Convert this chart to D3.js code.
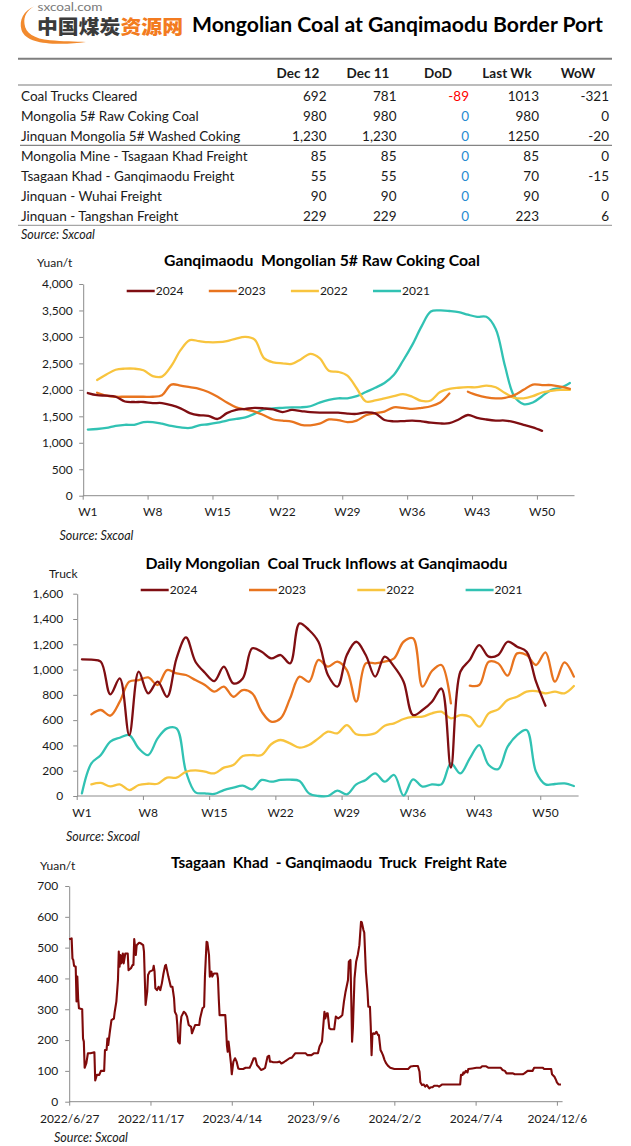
<!DOCTYPE html>
<html><head><meta charset="utf-8">
<script src="https://cdn.jsdelivr.net/npm/d3@7"></script>
<style>
body{margin:0;background:#fff;}
svg{display:block;font-family:Lato,"Noto Sans",sans-serif;}
.pre{white-space:pre;}
</style></head><body>
<script>
// ---------- DATA ----------
const tableLabels = ["Coal Trucks Cleared","Mongolia 5# Raw Coking Coal","Jinquan Mongolia 5# Washed Coking","Mongolia Mine - Tsagaan Khad Freight","Tsagaan Khad - Ganqimaodu Freight","Jinquan - Wuhai Freight","Jinquan - Tangshan Freight"];
const tableHeaders = ["Dec 12","Dec 11","DoD","Last Wk","WoW"];
const colDec12 = ["692","980","1,230","85","55","90","229"];
const colDec11 = ["781","980","1,230","85","55","90","229"];
const colDoD = [-89,0,0,0,0,0,0];
const colLastWk = ["1013","980","1250","85","70","90","223"];
const colWoW = [-321,0,-20,0,-15,0,6];

const years = ["2024","2023","2022","2021"];
const weekTicks = [1,8,15,22,29,36,43,50];

const coal2024 = [1940,1900,1890,1870,1780,1770,1770,1750,1750,1710,1650,1560,1520,1510,1450,1560,1620,1640,1660,1650,1630,1580,1620,1600,1580,1570,1570,1570,1550,1545,1575,1555,1430,1405,1410,1420,1405,1380,1365,1370,1440,1525,1470,1440,1420,1420,1390,1340,1290,1225,null,null,null];
const coal2023 = [null,1946,1890,1870,1870,1870,1870,1870,1900,2100,2080,2050,2020,1960,1870,1760,1670,1630,1590,1520,1440,1420,1400,1340,1330,1360,1440,1430,1390,1420,1520,1560,1590,1670,1660,1640,1660,1690,1760,1930,null,1965,1900,1860,1840,1850,1900,2000,2100,2090,2090,2060,2020];
const coal2022 = [null,2186,2290,2380,2400,2400,2370,2260,2250,2450,2750,2940,2920,2900,2900,2920,2970,3000,2950,2600,2520,2500,2490,2580,2680,2600,2360,2340,2270,2030,1780,1800,1840,1880,1920,1870,1790,1800,1960,2020,2040,2050,2050,2080,2050,1940,1850,1840,1880,1950,1980,2000,2000];
const coal2021 = [1250,1260,1280,1320,1340,1340,1390,1390,1360,1320,1290,1280,1330,1350,1380,1420,1450,1480,1550,1630,1650,1660,1670,1670,1690,1760,1810,1840,1840,1880,1960,2040,2130,2280,2550,2850,3200,3480,3500,3490,3470,3420,3380,3380,3150,2450,1880,1730,1760,1880,2000,2040,2130];

const truck2024 = [1081,1078,1062,804,930,482,983,812,904,785,1089,1255,1062,975,909,1023,891,930,1168,1141,1089,1115,1049,1365,1313,1220,957,865,1115,1220,1115,944,1102,1023,904,640,680,746,850,225,983,1076,1194,1102,1115,1220,1181,1141,904,714,null,null,null];
const truck2023 = [null,646,680,635,746,904,917,938,878,996,970,957,917,878,825,865,785,838,812,667,588,614,772,944,904,1076,1023,1062,996,746,1049,1049,1062,1089,1220,1247,865,989,1036,733,null,873,878,1062,1049,952,1128,1115,1036,1136,904,1057,944];
const truck2022 = [null,92,103,76,92,47,87,97,97,145,145,192,203,192,179,224,245,316,324,324,409,443,416,382,403,456,509,496,561,488,482,496,556,575,609,625,627,654,667,614,640,627,548,654,685,759,785,825,830,812,825,812,870];
const truck2021 = [21,258,324,430,461,482,377,324,456,535,535,192,29,21,16,47,66,82,53,127,113,127,129,119,21,0,0,42,13,92,127,179,113,166,3,132,74,92,92,258,179,298,403,245,213,390,482,522,192,92,95,100,79];

const freightDateLabels = ["2022/6/27","2022/11/17","2023/4/14","2023/9/6","2024/2/2","2024/7/4","2024/12/6"];
const freightTickIdx = [0,100,200,300,400,500,600];
const freight = [[0,527],[3,530],[4,465],[5,460],[6,441],[8,438],[9,325],[10,406],[11,335],[12,303],[16,300],[17,205],[18,195],[19,110],[21,124],[23,157],[26,157],[30,160],[31,160],[32,69],[34,87],[37,87],[39,100],[43,100],[44,168],[46,168],[47,205],[48,184],[50,227],[52,265],[55,270],[56,292],[58,325],[60,395],[61,487],[62,438],[63,476],[64,449],[66,481],[67,449],[69,481],[72,481],[73,427],[76,433],[78,444],[79,444],[80,528],[82,476],[83,508],[86,516],[88,514],[91,508],[92,487],[93,400],[94,314],[96,357],[97,411],[99,422],[103,427],[104,441],[105,422],[106,368],[108,362],[110,373],[112,362],[114,384],[116,416],[118,441],[119,444],[122,406],[125,373],[127,373],[129,335],[130,292],[132,281],[133,249],[134,195],[136,189],[137,249],[138,276],[141,292],[143,287],[145,276],[147,249],[150,243],[151,222],[155,249],[160,249],[161,270],[164,303],[166,308],[167,406],[169,519],[170,517],[172,476],[173,406],[175,422],[176,406],[178,416],[182,416],[183,400],[184,335],[185,281],[192,281],[193,238],[194,184],[195,162],[196,195],[197,173],[199,124],[200,89],[202,130],[204,141],[206,130],[208,108],[210,106],[214,106],[217,110],[222,110],[224,121],[227,141],[229,141],[231,119],[234,110],[236,103],[239,106],[241,110],[244,146],[246,149],[247,130],[249,130],[251,128],[256,128],[259,130],[261,124],[264,128],[266,132],[271,141],[274,143],[278,157],[291,157],[293,151],[298,151],[301,157],[306,157],[308,179],[311,195],[312,227],[314,292],[315,270],[317,287],[318,287],[320,238],[322,235],[326,235],[328,276],[331,270],[334,276],[336,281],[338,325],[340,357],[343,395],[344,454],[346,460],[347,335],[348,195],[349,238],[351,400],[353,454],[355,476],[357,508],[359,584],[360,582],[362,557],[363,549],[365,422],[367,357],[368,308],[370,308],[371,243],[372,151],[373,216],[374,222],[376,220],[378,227],[380,216],[381,216],[383,168],[385,157],[386,151],[388,135],[390,124],[392,117],[395,110],[400,106],[417,106],[420,114],[424,116],[429,116],[431,97],[432,63],[434,54],[436,56],[438,49],[440,54],[443,43],[445,47],[447,47],[449,52],[453,52],[455,49],[459,56],[481,56],[482,87],[484,87],[485,95],[486,92],[488,100],[490,95],[491,106],[496,108],[501,110],[506,110],[508,115],[513,115],[516,110],[531,110],[533,103],[536,100],[538,92],[546,92],[548,89],[558,89],[560,92],[564,100],[570,100],[572,110],[583,110],[584,106],[593,106],[594,89],[597,81],[599,70],[600,63],[602,56],[605,56]];

const colors = {"2024":"#7F0E12","2023":"#E8741F","2022":"#F8C43E","2021":"#31C2B3"};
const axisColor = "#8c8c8c";
const textColor = "#1a1a1a";

// ---------- SVG ----------
const svg = d3.select("body").append("svg").attr("width",631).attr("height",1146);
svg.append("rect").attr("width",631).attr("height",1146).attr("fill","#fff");

// Logo
const logo = svg.append("g");
logo.append("path")
  .attr("d","M34,6.5 C24,10.5 18.5,20 21.5,30 C25,40.5 40,43.8 60,43.8 C70,43.8 78,43.2 86,42 C76,41.6 62,41.4 50,40.3 C34,38.8 25.5,33 24.5,24 C23.5,16 27,10.5 34,6.5 Z")
  .attr("fill","#F28A2E");
logo.append("text").attr("x",37.5).attr("y",11.3).attr("font-size",11.5).attr("fill","#7a7a7a")
  .attr("textLength",65).attr("lengthAdjust","spacingAndGlyphs").text("sxcoal.com");
const cn = logo.append("text").attr("x",37).attr("y",33.5).attr("font-size",19).attr("font-weight",900)
  .attr("font-family","'Noto Sans CJK SC',sans-serif").attr("textLength",146).attr("lengthAdjust","spacingAndGlyphs");
cn.append("tspan").attr("fill","#3b3b3b").text("中国煤炭");
cn.append("tspan").attr("fill","#F37B20").text("资源网");

svg.append("text").attr("x",192).attr("y",32).attr("font-size",20).attr("font-weight",700)
  .attr("fill","#000").attr("textLength",411).attr("lengthAdjust","spacingAndGlyphs")
  .text("Mongolian Coal at Ganqimaodu Border Port");

// ---------- TABLE ----------
const tbl = svg.append("g").attr("font-size",13.5).attr("fill",textColor);
const hdrX = [298,368,438,507,578];
const valRight = [326.5,396.5,469,539,609];
tbl.append("line").attr("x1",18).attr("x2",612).attr("y1",58.7).attr("y2",58.7).attr("stroke","#7f7f7f").attr("stroke-width",2);
tbl.append("line").attr("x1",18).attr("x2",612).attr("y1",85).attr("y2",85).attr("stroke","#a6a6a6").attr("stroke-width",1.3);
tbl.append("line").attr("x1",20).attr("x2",612).attr("y1",145.3).attr("y2",145.3).attr("stroke","#666").attr("stroke-width",1);
tbl.append("line").attr("x1",18).attr("x2",612).attr("y1",225.3).attr("y2",225.3).attr("stroke","#a6a6a6").attr("stroke-width",1.3);
tbl.selectAll("text.h").data(tableHeaders).join("text").attr("class","h")
  .attr("x",(d,i)=>hdrX[i]).attr("y",78).attr("text-anchor","middle").attr("font-weight",700).text(d=>d);
tbl.selectAll("text.l").data(tableLabels).join("text").attr("class","l")
  .attr("x",21).attr("y",(d,i)=>101+i*20).text(d=>d);
const cols = [colDec12,colDec11,colDoD,colLastWk,colWoW];
cols.forEach((col,ci)=>{
  tbl.selectAll("text.c"+ci).data(col).join("text").attr("class","c"+ci)
    .attr("x",valRight[ci]).attr("y",(d,i)=>101+i*20).attr("text-anchor","end")
    .attr("fill",d=> ci===2 ? (d<0 ? "#FF0000" : "#1F8BD0") : textColor)
    .text(d=>String(d));
});
tbl.append("text").attr("x",21).attr("y",239).attr("font-style","italic").attr("font-size",12.5).text("Source: Sxcoal");

// ---------- WEEKLY CHARTS ----------
function weeklyChart(cfg){
  const g = svg.append("g");
  const x = d3.scaleLinear().domain([0,53]).range(cfg.xr);
  const y = d3.scaleLinear().domain([0,cfg.ymax]).range(cfg.yr);
  const ya = d3.axisLeft(y).tickValues(d3.range(0,cfg.ymax+1,cfg.ystep)).tickSize(4).tickSizeOuter(0)
    .tickPadding(cfg.pad).tickFormat(d3.format(","));
  const yg = g.append("g").attr("transform",`translate(${cfg.xr[0]},0)`).call(ya);
  yg.select(".domain").attr("stroke",axisColor);
  yg.selectAll(".tick line").attr("stroke",axisColor);
  yg.selectAll(".tick text").attr("font-size",12).attr("fill",textColor).attr("font-family","Lato");
  const y0 = y(0);
  g.append("line").attr("x1",x(0)).attr("x2",x(53)).attr("y1",y0).attr("y2",y0).attr("stroke",axisColor);
  g.selectAll("line.xt").data(weekTicks).join("line").attr("class","xt")
    .attr("x1",d=>x(d-1)).attr("x2",d=>x(d-1)).attr("y1",y0).attr("y2",y0+4).attr("stroke",axisColor);
  g.selectAll("text.xl").data(weekTicks).join("text").attr("class","xl")
    .attr("x",d=>x(d-0.5)).attr("y",y0+cfg.xlab).attr("text-anchor","middle").attr("font-size",12).attr("fill",textColor)
    .text(d=>"W"+d);
  const order = ["2021","2022","2023","2024"];
  order.forEach(yr=>{
    const pts = cfg.series[yr].map((v,i)=>({v,i}));
    const ln = d3.line().defined(d=>d.v!=null).x(d=>x(d.i+0.5)).y(d=>y(d.v)).curve(d3.curveCatmullRom.alpha(0.5));
    g.append("path").attr("d",ln(pts)).attr("fill","none").attr("stroke",colors[yr]).attr("stroke-width",2.3)
      .attr("stroke-linejoin","round").attr("stroke-linecap","round");
  });
  years.forEach((yr,i)=>{
    const lx = cfg.legX + i*cfg.legStep;
    g.append("line").attr("x1",lx).attr("x2",lx+28).attr("y1",cfg.legY).attr("y2",cfg.legY)
      .attr("stroke",colors[yr]).attr("stroke-width",2.5);
    g.append("text").attr("x",lx+29).attr("y",cfg.legY+4.3).attr("font-size",12).attr("fill",textColor).text(yr);
  });
  g.append("text").attr("class","pre").attr("x",cfg.tx).attr("y",cfg.ty).attr("font-size",15).attr("font-weight",700)
    .attr("fill","#000").attr("textLength",cfg.tl).attr("lengthAdjust","spacingAndGlyphs").text(cfg.title);
  g.append("text").attr("x",cfg.ux).attr("y",cfg.uy).attr("font-size",12).attr("fill",textColor).text(cfg.unit);
  g.append("text").attr("x",cfg.sx).attr("y",cfg.sy).attr("font-size",12.5).attr("font-style","italic").attr("fill",textColor).text("Source: Sxcoal");
}

weeklyChart({
  xr:[83.2,574.5], yr:[495.7,284], ymax:4000, ystep:500, pad:6.5, xlab:20,
  series:{"2024":coal2024,"2023":coal2023,"2022":coal2022,"2021":coal2021},
  legX:126.7, legStep:82.1, legY:291,
  title:"Ganqimaodu  Mongolian 5# Raw Coking Coal", tx:164, ty:265.5, tl:316,
  unit:"Yuan/t", ux:37, uy:267, sx:59.5, sy:539.5
});
weeklyChart({
  xr:[77.2,578.6], yr:[796,593.7], ymax:1600, ystep:200, pad:10, xlab:20.7,
  series:{"2024":truck2024,"2023":truck2023,"2022":truck2022,"2021":truck2021},
  legX:140.7, legStep:108.3, legY:590,
  title:"Daily Mongolian  Coal Truck Inflows at Ganqimaodu", tx:145.5, ty:568.5, tl:362,
  unit:"Truck", ux:49, uy:577.5, sx:66, sy:841
});

// ---------- FREIGHT CHART ----------
(function(){
  const g = svg.append("g");
  const x = d3.scaleLinear().domain([0,600]).range([69.2,556.9]);
  const y = d3.scaleLinear().domain([0,700]).range([1101.7,886]);
  const ya = d3.axisLeft(y).tickValues(d3.range(0,701,100)).tickSize(4).tickSizeOuter(0).tickPadding(7);
  const yg = g.append("g").attr("transform",`translate(${x(0)},0)`).call(ya);
  yg.select(".domain").attr("stroke",axisColor);
  yg.selectAll(".tick line").attr("stroke",axisColor);
  yg.selectAll(".tick text").attr("font-size",12).attr("fill",textColor).attr("font-family","Lato");
  g.append("line").attr("x1",x(0)).attr("x2",x(607)).attr("y1",y(0)).attr("y2",y(0)).attr("stroke",axisColor);
  const xa = d3.axisBottom(x).tickValues(freightTickIdx).tickSize(4).tickSizeOuter(0).tickPadding(9)
    .tickFormat((d,i)=>freightDateLabels[i]);
  const xg = g.append("g").attr("transform",`translate(0,${y(0)})`).call(xa);
  xg.select(".domain").remove();
  xg.selectAll(".tick line").attr("stroke",axisColor);
  xg.selectAll(".tick text").attr("font-size",12).attr("fill",textColor).attr("font-family","Lato");
  const ln = d3.line().x(d=>x(d[0])).y(d=>y(d[1]));
  g.append("path").attr("d",ln(freight)).attr("fill","none").attr("stroke","#7F0A0A").attr("stroke-width",2.1)
    .attr("stroke-linejoin","round");
  g.append("text").attr("class","pre").attr("x",171).attr("y",867.7).attr("font-size",15).attr("font-weight",700)
    .attr("fill","#000").attr("textLength",336).attr("lengthAdjust","spacingAndGlyphs")
    .text("Tsagaan  Khad  - Ganqimaodu  Truck  Freight Rate");
  g.append("text").attr("x",40).attr("y",869.5).attr("font-size",12).attr("fill",textColor).text("Yuan/t");
  g.append("text").attr("x",54).attr("y",1142.3).attr("font-size",12.5).attr("font-style","italic").attr("fill",textColor).text("Source: Sxcoal");
})();
</script>
</body></html>
